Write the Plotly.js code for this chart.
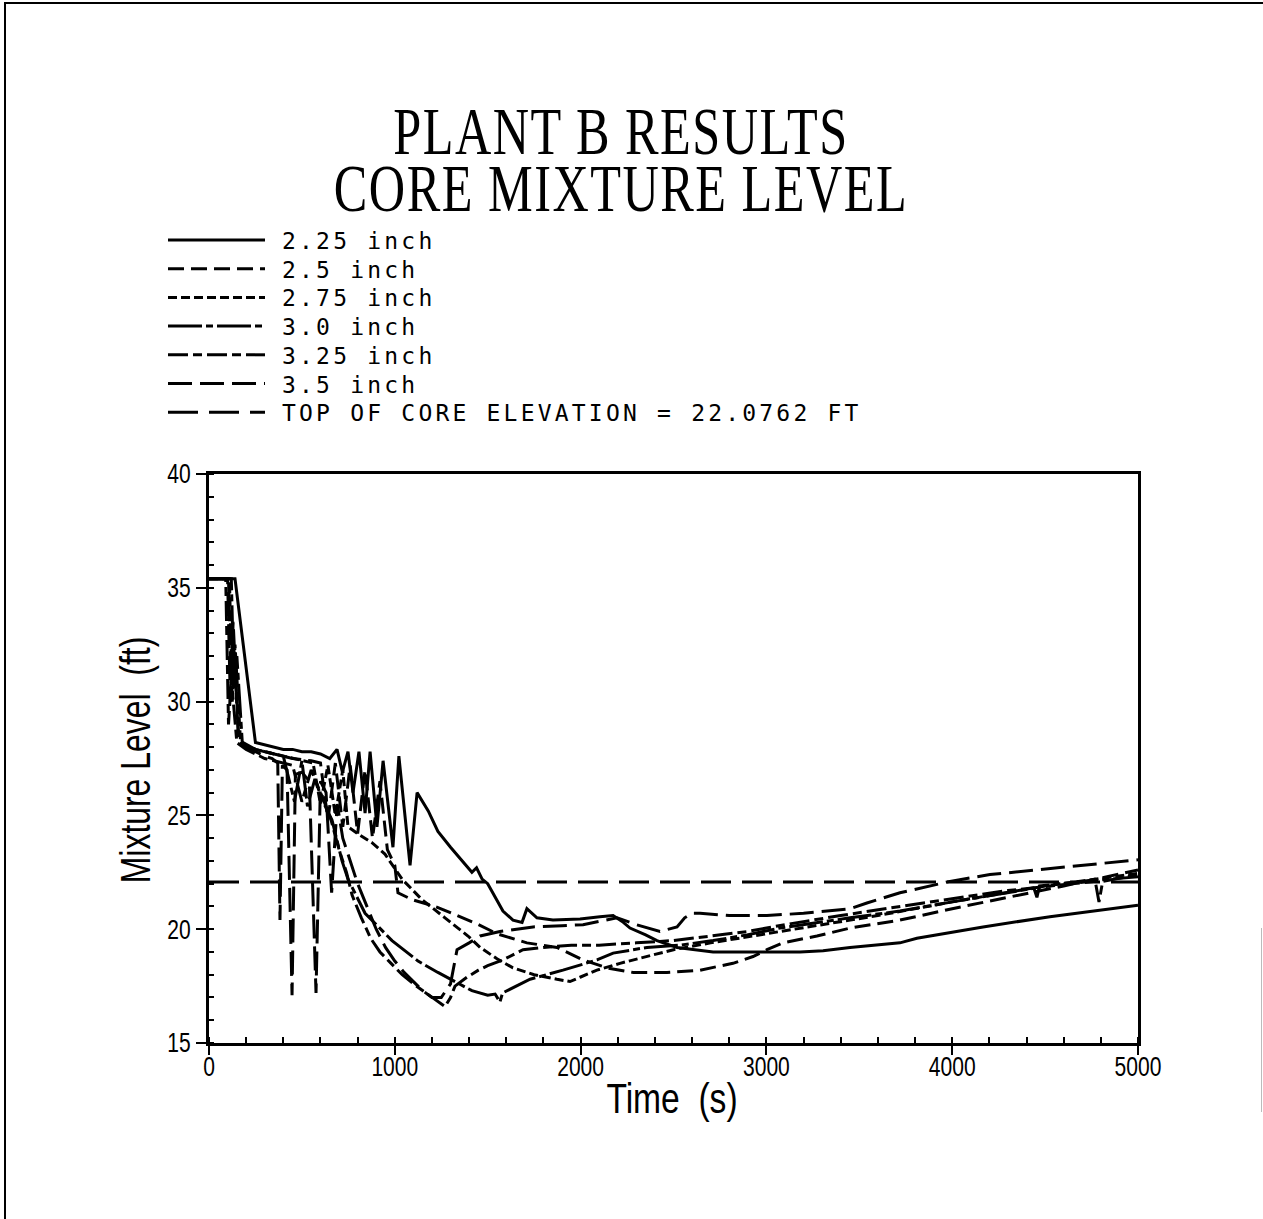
<!DOCTYPE html>
<html><head><meta charset="utf-8">
<script src="https://cdn.plot.ly/plotly-3.0.1.min.js"></script>
<style>
html,body{margin:0;padding:0;background:#fff;}
#chart{width:1263px;height:1219px;}
.annotation-text{letter-spacing:3.2px;}
</style></head><body><div id="chart"></div><script>
// ---- data ----
const seriesNames = ["2.25 inch","2.5 inch","2.75 inch","3.0 inch","3.25 inch","3.5 inch"];
const coreName = "TOP OF CORE ELEVATION = 22.0762 FT";

const t225 = [0,140,250,300,350,400,450,500,550,600,650,689,718,748,775,807,840,867,904,937,990,1022,1082,1120,1180,1232,1300,1380,1415,1440,1470,1500,1540,1582,1636,1685,1711,1765,1851,1997,2104,2175,2230,2266,2350,2411,2519,2713,2896,3003,3181,3305,3450,3719,3810,4166,4526,5000];
const y225 = [35.4,35.4,28.2,28.1,28.0,27.9,27.9,27.8,27.8,27.7,27.5,27.9,26.9,27.8,26.0,27.8,25.1,27.8,24.5,27.4,23.6,27.6,22.8,26.0,25.2,24.3,23.6,22.8,22.5,22.7,22.2,22.0,21.4,20.8,20.4,20.3,20.9,20.5,20.4,20.45,20.55,20.6,20.3,20.05,19.75,19.5,19.2,19.0,19.0,19.0,19.0,19.05,19.2,19.4,19.6,20.1,20.55,21.05];

const t25 = [0,105,118,130,160,250,350,450,550,600,640,680,720,760,800,840,880,920,960,1000,1017,1093,1216,1308,1450,1550,1711,1873,2013,2142,2283,2465,2643,2820,2928,3003,3089,3272,3450,3719,4000,4300,4600,5000];
const y25 = [35.4,35.4,31.0,33.5,28.3,27.9,27.7,27.5,27.4,27.3,24.8,27.3,24.5,27.2,24.2,27.0,24.0,26.5,23.5,22.8,21.6,21.3,21.0,20.7,20.2,19.8,19.4,19.2,18.65,18.3,18.1,18.1,18.2,18.5,18.8,19.1,19.4,19.7,20.05,20.4,20.9,21.4,21.9,22.6];

const t275 = [0,110,125,140,170,250,300,400,500,560,600,640,680,720,748,800,877,947,1039,1146,1270,1394,1459,1550,1636,1750,1873,1943,2000,2088,2212,2357,2500,2700,3000,3300,3600,4000,4500,5000];
const y275 = [35.4,35.4,30.0,32.5,28.2,27.9,27.8,27.6,27.4,27.3,25.5,27.2,25.0,27.0,24.5,24.2,23.8,23.3,22.2,21.3,20.5,19.7,19.2,18.7,18.3,18.0,17.8,17.7,17.9,18.2,18.5,18.8,19.1,19.4,19.8,20.2,20.6,21.2,21.9,22.45];

const t30 = [0,120,135,150,180,250,300,400,460,500,530,570,608,662,716,748,840,985,1125,1232,1415,1500,1540,1566,1580,1728,1905,2088,2175,2357,2535,2713,2896,3073,3450,3719,4000,4300,4440,4456,4470,4700,5000];
const y30 = [35.4,35.4,30.5,32.0,28.1,27.9,27.8,27.6,25.6,27.4,25.4,26.6,25.7,24.8,23.0,22.2,20.7,19.5,18.6,18.1,17.3,17.1,17.15,16.8,17.2,17.8,18.2,18.65,18.95,19.2,19.3,19.5,19.75,20.05,20.5,20.8,21.2,21.6,21.8,21.4,21.9,22.1,22.3];

const t325 = [0,90,105,120,150,200,250,300,350,400,450,500,550,600,650,700,740,770,820,870,920,980,1040,1100,1150,1200,1270,1300,1324,1390,1450,1500,1582,1690,1800,1950,2100,2300,2500,2700,2900,3100,3400,3800,4300,4770,4790,4810,5000];
const y325 = [35.4,35.4,29.0,31.0,28.2,27.9,27.7,27.5,27.4,27.3,27.2,25.6,27.0,26.0,25.0,23.5,22.5,21.5,20.5,19.6,19.0,18.5,18.0,17.6,17.3,17.0,16.6,17.0,17.5,17.9,18.2,18.4,18.65,19.1,19.2,19.3,19.3,19.4,19.5,19.7,19.9,20.2,20.6,21.1,21.7,22.1,21.2,22.1,22.4];

const t35 = [0,100,115,130,160,200,250,300,340,370,382,395,420,447,465,500,540,576,600,630,660,690,720,760,800,850,900,950,1000,1050,1100,1150,1200,1250,1300,1335,1400,1459,1566,1744,1900,2013,2196,2300,2427,2519,2560,2600,2643,2800,3003,3200,3450,3541,3719,3988,4203,4456,5000];
const y35 = [35.4,35.4,30.0,33.0,28.2,28.0,27.8,27.6,27.5,27.3,20.4,27.2,27.0,17.1,26.8,26.9,26.5,17.2,26.5,26.0,21.6,25.5,24.0,23.0,22.0,21.0,20.0,19.2,18.6,18.1,17.7,17.3,17.0,17.0,17.6,19.1,19.4,19.7,19.9,20.1,20.15,20.2,20.5,20.2,19.9,20.1,20.5,20.7,20.7,20.6,20.6,20.7,20.9,21.15,21.6,22.1,22.4,22.6,23.05];

const coreTime = [0,5000];
const coreLevel = [22.0762,22.0762];

const seriesX = [t225,t25,t275,t30,t325,t35];
const seriesY = [y225,y25,y275,y30,y325,y35];

// ---- styles ----
const dashes = ["solid","16px,7px","9px,4px","34px,4px,7px,4px","20px,5px,9px,5px","24px,8px"];
const coreDash = "30px,11px";

// layout geometry (pixels)
const W = 1263, H = 1219, L = 209, R = 1138, T = 474, B = 1043;
const px = p => (p - L) / (R - L);
const py = p => (B - p) / (B - T);

const traces = seriesX.map((x,i) => ({
  x: x, y: seriesY[i], type: 'scatter', mode: 'lines', name: seriesNames[i],
  line: {color: '#000', width: 3, dash: dashes[i]}, showlegend: false, hoverinfo: 'skip'
}));
traces.push({x: coreTime, y: coreLevel, type: 'scatter', mode: 'lines', name: coreName,
  line: {color: '#000', width: 3, dash: coreDash}, showlegend: false, hoverinfo: 'skip'});

// manual legend
const legNames = seriesNames.concat([coreName]);
const legDash = dashes.concat([coreDash]);
const shapes = [];
const annotations = [];
legNames.forEach((n,i) => {
  const yy = 240 + i * 28.7;
  shapes.push({type: 'line', xref: 'paper', yref: 'paper', x0: px(168), x1: px(265), y0: py(yy), y1: py(yy),
    line: {color: '#000', width: 3, dash: legDash[i]}});
  annotations.push({xref: 'paper', yref: 'paper', x: px(280), y: py(yy + 1), xanchor: 'left', yanchor: 'middle',
    text: n, showarrow: false, font: {family: 'DejaVu Sans Mono, Liberation Mono, monospace', size: 23, color: '#000'}});
});
// page frame
shapes.push({type: 'rect', xref: 'paper', yref: 'paper', x0: px(5), x1: px(1275), y0: py(3), y1: py(1240),
  line: {color: '#000', width: 2}});
shapes.push({type: 'line', xref: 'paper', yref: 'paper', x0: px(1261.5), x1: px(1261.5), y0: py(928), y1: py(1112),
  line: {color: '#bbbbbb', width: 1}});

const sans = 'Liberation Sans, Arial, Helvetica, sans-serif';
const tickFont = {family: sans, size: 27, color: '#000'};
const layout = {
  width: W, height: H,
  margin: {l: L, r: W - R, t: T, b: H - B, pad: 0},
  paper_bgcolor: '#fff', plot_bgcolor: '#fff',
  showlegend: false,
  title: {text: 'PLANT B RESULTS<br>CORE MIXTURE LEVEL', xref: 'container', yref: 'container',
    x: 621 / W, xanchor: 'center', y: 1 - 160 / H, yanchor: 'middle',
    font: {family: 'Liberation Serif, Times New Roman, serif', size: 68, color: '#000'}},
  xaxis: {range: [0, 5000], dtick: 1000, tick0: 0, showgrid: false, zeroline: false,
    showline: true, linecolor: '#000', linewidth: 3, mirror: true,
    ticks: 'outside', ticklen: 9, tickwidth: 2, tickcolor: '#000',
    minor: {dtick: 200, ticks: 'inside', ticklen: 6, tickwidth: 2, tickcolor: '#000', showgrid: false},
    tickfont: tickFont,
    title: {text: 'Time\u00a0\u00a0(s)', standoff: 10, font: {family: sans, size: 42, color: '#000'}}},
  yaxis: {range: [15, 40], dtick: 5, tick0: 15, showgrid: false, zeroline: false,
    showline: true, linecolor: '#000', linewidth: 3, mirror: true,
    ticks: 'outside', ticklen: 10, tickwidth: 2, tickcolor: '#000',
    minor: {dtick: 1, ticks: 'inside', ticklen: 5, tickwidth: 2, tickcolor: '#000', showgrid: false},
    tickfont: tickFont,
    title: {text: 'Mixture Level\u00a0\u00a0(ft)', standoff: 18, font: {family: sans, size: 42, color: '#000'}}},
  shapes: shapes,
  annotations: annotations
};

// narrow the text glyphs the way the reference's condensed lettering looks
function fit(el, sx, sy, ax, tx, ty, ddy) {
  const bb = el.getBBox();
  const cx = bb.x + bb.width * ax, cy = bb.y + bb.height / 2;
  const ex = el.getAttribute('transform') || '';
  el.setAttribute('transform', ex + ' translate(' + cx + ',' + cy + ') scale(' + sx + ',' + sy + ') translate(' + (-cx) + ',' + (-cy) + ')');
  let dx = 0, dy = ddy || 0;
  if (tx !== null && tx !== undefined) {
    const r = el.getBoundingClientRect();
    dx = tx - (r.left + r.width / 2);
    dy = ty - (r.top + r.height / 2);
  }
  if (dx || dy) el.setAttribute('transform', 'translate(' + dx + ',' + dy + ') ' + el.getAttribute('transform'));
}

Plotly.newPlot('chart', traces, layout, {displayModeBar: false, staticPlot: true}).then(gd => {
  const title = gd.querySelector('.gtitle');
  if (title) {
    const lines = title.querySelectorAll('tspan.line');
    if (lines.length > 1) lines[1].setAttribute('dy', '0.84em');
    title.setAttribute('letter-spacing', '2');
    fit(title, 0.74, 1, 0.5, 621, 160);
  }
  const xt = gd.querySelector('.xtitle');
  if (xt) fit(xt, 0.8, 1, 0.5, 672, 1099);
  const yt = gd.querySelector('.ytitle');
  if (yt) fit(yt, 0.76, 1, 0.5, 135, 760);
  gd.querySelectorAll('.xtick text').forEach(e => fit(e, 0.78, 1, 0.5, null, null, -11));
  gd.querySelectorAll('.ytick text').forEach(e => fit(e, 0.78, 1, 1, null, null, 0));
});
</script></body></html>
